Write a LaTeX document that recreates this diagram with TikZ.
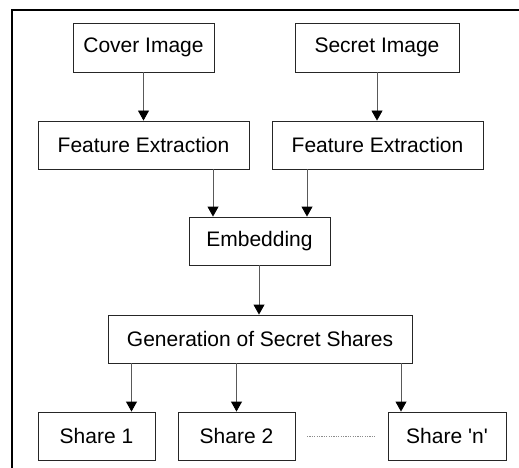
\documentclass[tikz,border=0pt]{standalone}
\usepackage{fontspec}
\setmainfont{Liberation Sans}
\usetikzlibrary{arrows.meta}
\begin{document}
\begin{tikzpicture}[x=1pt,y=-1pt,
  box/.style={draw=black!85,line width=0.9pt,inner sep=0pt,font=\fontsize{21}{24}\selectfont},
  link/.style={draw=black!65,line width=0.9pt,-{Triangle[length=10pt,width=11pt,fill=black,color=black]}}]
\useasboundingbox (0,0) rectangle (519,468);
% outer frame, running past the right and lower edges
\draw[line width=2pt] (12,468) -- (12,10) -- (519,10);
% boxes
\node[box,minimum width=141pt,minimum height=49pt] (cover) at (143.5,47.5) {Cover Image};
\node[box,minimum width=164pt,minimum height=49pt] (secret) at (377,47.5) {Secret Image};
\node[box,minimum width=211pt,minimum height=48pt] (fe1) at (143.5,145) {Feature Extraction};
\node[box,minimum width=211pt,minimum height=48pt] (fe2) at (377.5,145) {Feature Extraction};
\node[box,minimum width=141pt,minimum height=48pt] (emb) at (259.5,241) {Embedding};
\node[box,minimum width=304pt,minimum height=48pt] (gen) at (260,339) {Generation of Secret Shares};
\node[box,minimum width=117pt,minimum height=48pt] (s1) at (96.5,436) {Share 1};
\node[box,minimum width=117pt,minimum height=48pt] (s2) at (236.5,436) {Share 2};
\node[box,minimum width=118pt,minimum height=48pt] (sn) at (447,436) {Share \textquotesingle n\textquotesingle};
% connectors
\draw[link] (cover) -- (fe1);
\draw[link] (secret.south) -- (secret.south |- fe2.north);
\draw[link] (fe1.south -| 213,0) -- (emb.north -| 213,0);
\draw[link] (fe2.south -| 307,0) -- (emb.north -| 307,0);
\draw[link] (emb.south -| 259,0) -- (gen.north -| 259,0);
\draw[link] (gen.south -| s1.north) ++(35,0) coordinate (g1) -- (g1 |- s1.north);
\draw[link] (gen.south -| s2.north) coordinate (g2) -- (g2 |- s2.north);
\draw[link] (gen.south -| 401,0) -- (sn.north -| 401,0);
% dotted gap between the shares
\coordinate (d1) at (307,436);
\coordinate (d2) at (376,436);
\draw[black!45,line width=0.8pt,dash pattern=on 1.2pt off 1.2pt] (d1) -- (d2);
\end{tikzpicture}
\end{document}
